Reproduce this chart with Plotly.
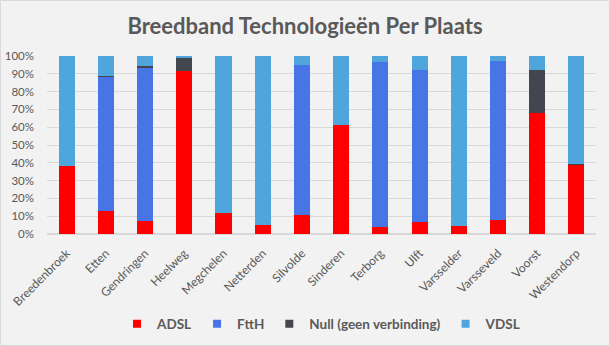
import plotly.graph_objects as go

plaatsen = ["Breedenbroek", "Etten", "Gendringen", "Heelweg", "Megchelen", "Netterden",
            "Silvolde", "Sinderen", "Terborg", "Ulft", "Varsselder", "Varsseveld",
            "Voorst", "Westendorp"]

# shares per technology (fractions of 1)
adsl = [0.383, 0.129, 0.073, 0.917, 0.118, 0.052, 0.107, 0.612, 0.039, 0.068, 0.047, 0.079, 0.681, 0.388]
ftth = [0.0, 0.753, 0.863, 0.0, 0.0, 0.0, 0.840, 0.0, 0.929, 0.855, 0.0, 0.895, 0.0, 0.0]
null = [0.0, 0.005, 0.006, 0.073, 0.0, 0.0, 0.0, 0.0, 0.0, 0.0, 0.0, 0.0, 0.242, 0.004]
vdsl = [round(1 - a - f - n, 3) for a, f, n in zip(adsl, ftth, null)]

series = [
    ("ADSL", adsl, "#FF0000"),
    ("FttH", ftth, "#4775E6"),
    ("Null (geen verbinding)", null, "#44464F"),
    ("VDSL", vdsl, "#4FA6DC"),
]

fig = go.Figure()
for name, vals, color in series:
    fig.add_trace(go.Bar(x=plaatsen, y=vals, name=name, legendgroup=name, showlegend=False,
                         marker=dict(color=color, line=dict(width=0))))
# small square legend keys
for name, vals, color in series:
    fig.add_trace(go.Scatter(x=[None], y=[None], mode="markers", name=name, legendgroup=name,
                             marker=dict(symbol="square", size=8, color=color)))

grey = "#595959"
fig.update_layout(
    width=610, height=346,
    barmode="stack", bargap=0.59,
    paper_bgcolor="#F2F2F2", plot_bgcolor="#F2F2F2",
    margin=dict(l=47, r=14, t=56, b=112, autoexpand=False),
    font=dict(family="Lato", color=grey, size=12),
    title=dict(text="Breedband Technologieën Per Plaats", x=0.5, xanchor="center",
               yref="container", y=1 - 26 / 346, yanchor="middle",
               font=dict(family="Lato", size=22, color=grey, weight=700)),
    legend=dict(orientation="h", x=0.5, xanchor="center", yref="container",
                y=(346 - 324) / 346, yanchor="middle", itemwidth=30,
                font=dict(family="Lato", size=13.5, color=grey, weight=700),
                traceorder="normal", bgcolor="rgba(0,0,0,0)"),
    xaxis=dict(tickangle=-45, showgrid=False, showline=False, ticks="", automargin=False,
               ticklabelstandoff=9, tickfont=dict(size=12, color=grey)),
    yaxis=dict(range=[0, 1], dtick=0.1, tickformat=".0%", gridcolor="#D9D9D9", gridwidth=1,
               zeroline=True, zerolinecolor="#D9D9D9", ticks="", automargin=False,
               ticklabelstandoff=12, tickfont=dict(size=11.5, color=grey)),
    shapes=[dict(type="rect", xref="paper", yref="paper", x0=-46.5 / 549, x1=1 + 13.5 / 549,
                 y0=-111.5 / 178, y1=1 + 55.5 / 178, line=dict(color="#D9D9D9", width=1))],
)

fig.write_html("out.html")
